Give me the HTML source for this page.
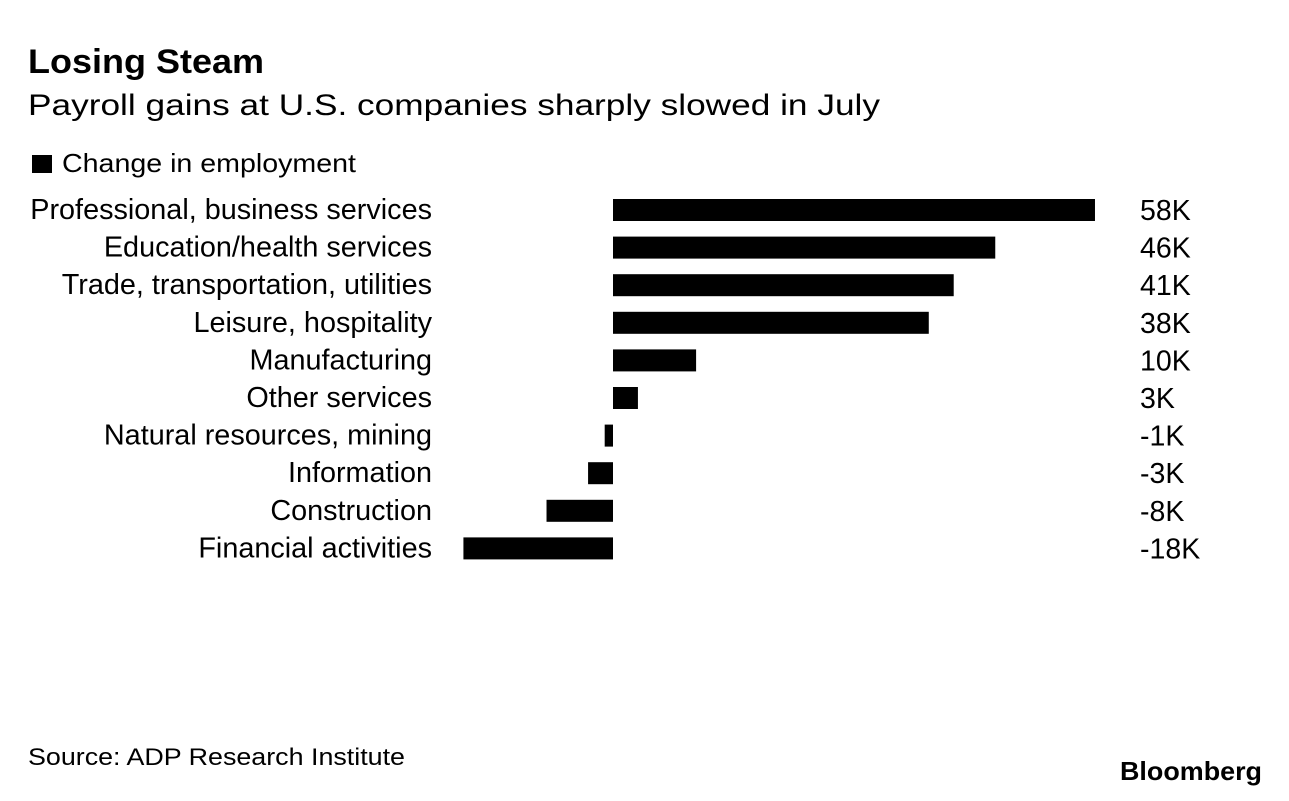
<!DOCTYPE html>
<html><head><meta charset="utf-8"><style>
html,body{margin:0;padding:0;background:#fff;}
svg text{font-family:"Liberation Sans",Arial,sans-serif;fill:#000;}
</style></head><body>
<svg width="1289" height="796" viewBox="0 0 1289 796">
<text x="28" y="73" font-size="34" font-weight="bold" textLength="236" lengthAdjust="spacingAndGlyphs">Losing Steam</text>
<text x="28" y="115" font-size="30" textLength="852" lengthAdjust="spacingAndGlyphs">Payroll gains at U.S. companies sharply slowed in July</text>
<rect x="32" y="155" width="20" height="18" fill="#000"/>
<text x="62" y="172" font-size="26" textLength="294" lengthAdjust="spacingAndGlyphs">Change in employment</text>
<g id="bars"></g>
<text x="28" y="765" font-size="24" textLength="377" lengthAdjust="spacingAndGlyphs">Source: ADP Research Institute</text>
<text x="1120" y="780" font-size="26" font-weight="bold" textLength="142" lengthAdjust="spacingAndGlyphs">Bloomberg</text>
</svg>
<script>
const categories=["Professional, business services","Education/health services","Trade, transportation, utilities","Leisure, hospitality","Manufacturing","Other services","Natural resources, mining","Information","Construction","Financial activities"];
const values=[58,46,41,38,10,3,-1,-3,-8,-18];
const valueLabels=["58K","46K","41K","38K","10K","3K","-1K","-3K","-8K","-18K"];
const zeroX=613, pxPerK=8.31, firstY=210, rowStep=37.6, barH=22;
const xScale=v=>zeroX+v*pxPerK;
const yScale=i=>firstY+i*rowStep;
const g=document.getElementById('bars');
const NS="http://www.w3.org/2000/svg";
categories.forEach((c,i)=>{
  const y=yScale(i), v=values[i];
  const x0=Math.min(xScale(0),xScale(v)), w=Math.abs(xScale(v)-xScale(0));
  const r=document.createElementNS(NS,'rect');
  r.setAttribute('x',x0);r.setAttribute('y',y-barH/2);r.setAttribute('width',w);r.setAttribute('height',barH);r.setAttribute('fill','#000');
  
  
  g.appendChild(r);
  const t=document.createElementNS(NS,'text');
  t.setAttribute('x',432);t.setAttribute('y',y+9);t.setAttribute('font-size','28.8');t.setAttribute('text-anchor','end');
  t.textContent=c;
  
  
  g.appendChild(t);
  const l=document.createElementNS(NS,'text');
  l.setAttribute('x',1140);l.setAttribute('y',y+10);l.setAttribute('font-size','28.5');
  l.textContent=valueLabels[i];
  
  
  g.appendChild(l);
});
</script>
</body></html>
